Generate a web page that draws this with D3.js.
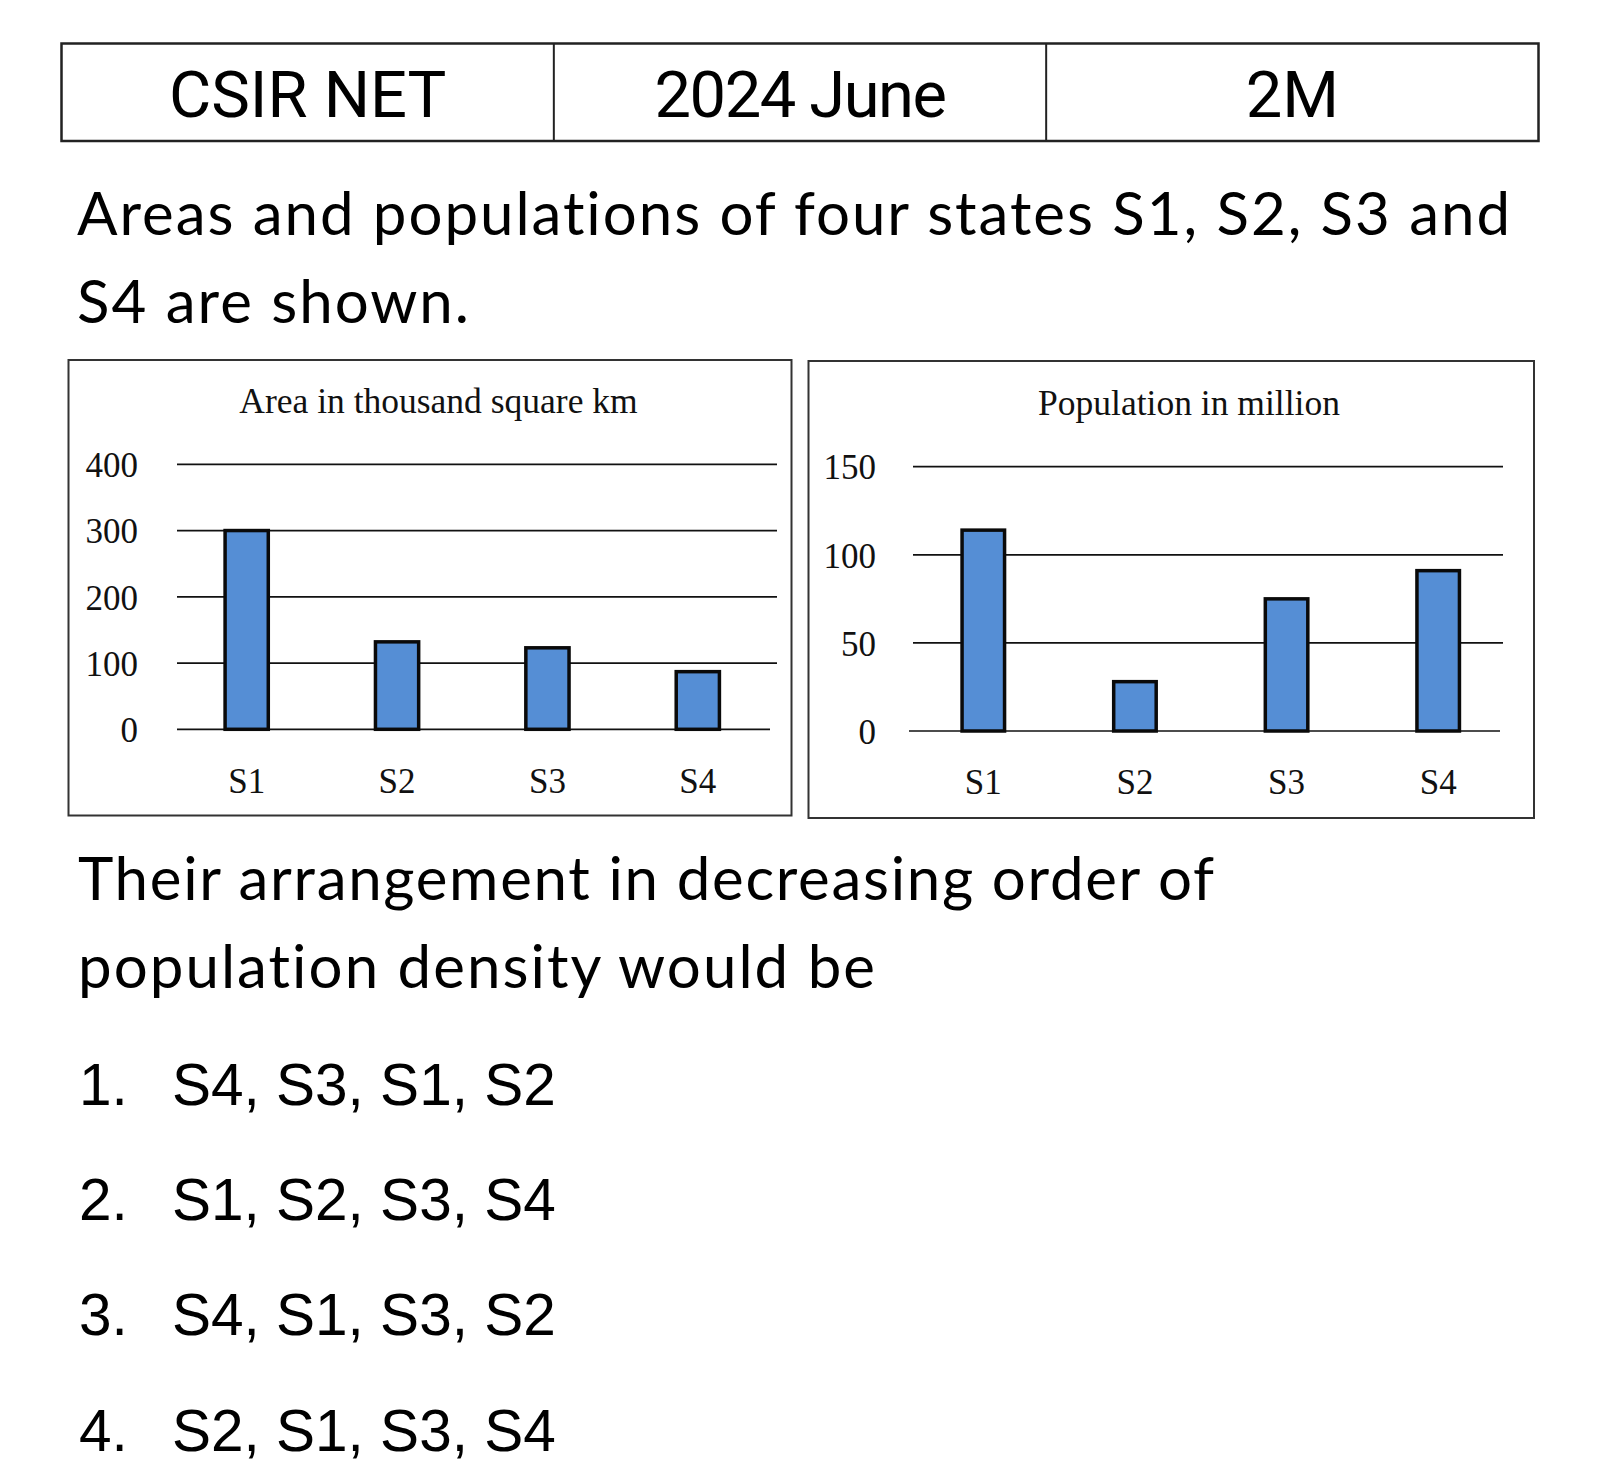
<!DOCTYPE html>
<html>
<head>
<meta charset="utf-8">
<script src="https://cdn.jsdelivr.net/npm/d3@7"></script>
<style>
  html, body { margin: 0; padding: 0; background: #ffffff; }
  svg { display: block; }
  text { font-variant-ligatures: none; font-feature-settings: "liga" 0, "clig" 0; }
</style>
</head>
<body>
<svg id="page" width="1600" height="1480"></svg>
<script>
// ---------------- data ----------------
const headerCells = ["CSIR NET", "2024 June", "2M"];
const questionLines = ["Areas and populations of four states S1, S2, S3 and", "S4 are shown."];
const followLines = ["Their arrangement in decreasing order of", "population density would be"];
const optionNumbers = ["1.", "2.", "3.", "4."];
const optionTexts = ["S4, S3, S1, S2", "S1, S2, S3, S4", "S4, S1, S3, S2", "S2, S1, S3, S4"];

const states = ["S1", "S2", "S3", "S4"];
const areaValues = [300, 132, 123, 87];          // thousand square km
const populationValues = [114, 28, 75, 91];      // million
const areaTicks = [0, 100, 200, 300, 400];
const populationTicks = [0, 50, 100, 150];
const areaTitle = "Area in thousand square km";
const populationTitle = "Population in million";

// ---------------- drawing ----------------
const svg = d3.select("#page");
const SERIF = "'Liberation Serif', 'Times New Roman', serif";
const ROBOTO = "Roboto, 'Liberation Sans', sans-serif";
const PARA = "Lato, 'Open Sans', sans-serif";
const ARIAL = "'Liberation Sans', Arial, sans-serif";

svg.append("rect").attr("width", 1600).attr("height", 1480).attr("fill", "#fff");

// header table
const table = { x0: 61.5, x1: 1538.5, y0: 43.5, y1: 141 };
const colX = d3.scaleBand().domain(headerCells).range([table.x0, table.x1]);
const tg = svg.append("g");
tg.append("rect")
  .attr("x", table.x0).attr("y", table.y0)
  .attr("width", table.x1 - table.x0).attr("height", table.y1 - table.y0)
  .attr("fill", "none").attr("stroke", "#222").attr("stroke-width", 2.5);
tg.selectAll("line.div").data(headerCells.slice(1)).join("line")
  .attr("x1", d => colX(d)).attr("x2", d => colX(d))
  .attr("y1", table.y0).attr("y2", table.y1)
  .attr("stroke", "#222").attr("stroke-width", 2);
tg.selectAll("text").data(headerCells).join("text")
  .attr("x", d => colX(d) + colX.bandwidth() / 2)
  .attr("y", 116.5)
  .attr("text-anchor", "middle")
  .attr("font-family", ROBOTO).attr("font-size", 65)
  .attr("letter-spacing", d => d === "2024 June" ? -1.5 : 0)
  .attr("fill", "#000")
  .text(d => d);

// paragraphs
function paragraph(lines, x, y0, lh, widths) {
  const g = svg.append("g");
  g.selectAll("text").data(lines).join("text")
    .attr("x", x).attr("y", (d, i) => y0 + i * lh)
    .attr("font-family", PARA).attr("font-size", 60)
    .attr("fill", "#000")
    .attr("textLength", (d, i) => widths[i])
    .attr("lengthAdjust", "spacing")
    .text(d => d);
}
paragraph(questionLines, 77, 235, 88, [1433, 392]);
paragraph(followLines, 78, 900, 88, [1136, 797]);

// options
const og = svg.append("g");
const optY = d3.scalePoint().domain(optionNumbers).range([1105, 1450.5]);
og.selectAll("text.num").data(optionNumbers).join("text")
  .attr("class", "num")
  .attr("x", 79).attr("y", d => optY(d))
  .attr("font-family", ARIAL).attr("font-size", 58.5).attr("fill", "#000")
  .text(d => d);
og.selectAll("text.opt").data(optionTexts).join("text")
  .attr("class", "opt")
  .attr("x", 172).attr("y", (d, i) => optY(optionNumbers[i]))
  .attr("font-family", ARIAL).attr("font-size", 58.5).attr("fill", "#000")
  .text(d => d);

// charts
function drawChart(cfg) {
  const g = svg.append("g");
  g.append("rect")
    .attr("x", cfg.box[0]).attr("y", cfg.box[1])
    .attr("width", cfg.box[2]).attr("height", cfg.box[3])
    .attr("fill", "#fff").attr("stroke", "#333").attr("stroke-width", 2);

  const y = d3.scaleLinear().domain([0, d3.max(cfg.ticks)]).range(cfg.yRange);
  const x = d3.scaleBand().domain(states).range(cfg.xRange).padding(0);

  // gridlines
  g.selectAll("line.grid").data(cfg.ticks).join("line")
    .attr("class", "grid")
    .attr("x1", d => d === 0 ? cfg.zeroX[0] : cfg.gridX[0])
    .attr("x2", d => d === 0 ? cfg.zeroX[1] : cfg.gridX[1])
    .attr("y1", d => y(d)).attr("y2", d => y(d))
    .attr("stroke", "#111").attr("stroke-width", 1.7);

  // y axis labels
  const ax = g.append("g")
    .attr("transform", `translate(${cfg.gridX[0]},0)`)
    .call(d3.axisLeft(y).tickValues(cfg.ticks).tickSize(0).tickPadding(cfg.tickPad).tickFormat(d3.format("d")));
  ax.select(".domain").remove();
  ax.selectAll("text")
    .attr("font-family", SERIF).attr("font-size", 35)
    .attr("fill", "#111").attr("dy", "0.35em");

  // bars
  const barW = cfg.barW;
  g.selectAll("rect.bar").data(cfg.values).join("rect")
    .attr("class", "bar")
    .attr("x", (d, i) => x(states[i]) + x.bandwidth() / 2 - barW / 2)
    .attr("y", d => y(d))
    .attr("width", barW)
    .attr("height", d => y(0) - y(d))
    .attr("fill", "#558ED5")
    .attr("stroke", "#0a0a0a").attr("stroke-width", 3.5);

  // category labels
  g.selectAll("text.cat").data(states).join("text")
    .attr("class", "cat")
    .attr("x", d => x(d) + x.bandwidth() / 2)
    .attr("y", cfg.catY)
    .attr("text-anchor", "middle")
    .attr("font-family", SERIF).attr("font-size", 35)
    .attr("fill", "#111")
    .text(d => d);

  // title
  g.append("text")
    .attr("x", cfg.titleX).attr("y", cfg.titleY)
    .attr("text-anchor", "middle")
    .attr("font-family", SERIF).attr("font-size", 35.5)
    .attr("fill", "#111")
    .text(cfg.title);
}

drawChart({
  box: [68.5, 360, 723, 455.5],
  values: areaValues, ticks: areaTicks, title: areaTitle,
  yRange: [729.3, 464.3], xRange: [171.5, 773],
  gridX: [177, 777], zeroX: [177, 770], tickPad: 39,
  barW: 43.2, catY: 793, titleX: 438.5, titleY: 413
});
drawChart({
  box: [808.5, 361, 725.5, 457],
  values: populationValues, ticks: populationTicks, title: populationTitle,
  yRange: [731, 466.7], xRange: [907.5, 1514],
  gridX: [913, 1503], zeroX: [909, 1500], tickPad: 37,
  barW: 42.5, catY: 794, titleX: 1189, titleY: 415
});
</script>
</body>
</html>
